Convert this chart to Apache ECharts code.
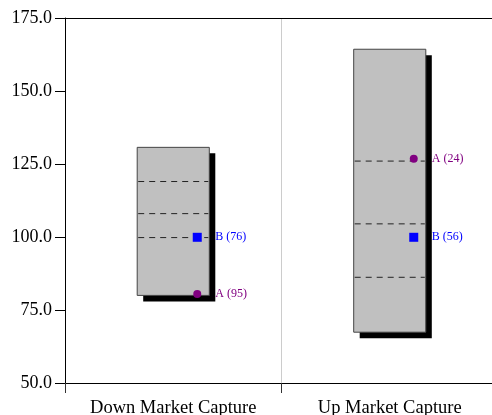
<!DOCTYPE html>
<html>
<head>
<meta charset="utf-8">
<script src="https://cdn.jsdelivr.net/npm/echarts@6/dist/echarts.min.js"></script>
<style>html,body{margin:0;padding:0;background:#fff;}#c{width:492px;height:415px;}</style>
</head>
<body>
<div id="c"></div>
<script>
var categories = ['Down Market Capture', 'Up Market Capture'];
var boxLow = [80.0, 67.4];
var boxHigh = [130.7, 164.3];
var dashLines = [[119.0, 108.0, 99.8], [126.0, 104.5, 86.2]];
var seriesA = [80.5, 126.8];
var rankA = [95, 24];
var seriesB = [99.9, 99.9];
var rankB = [76, 56];
var yTicks = [50, 75, 100, 125, 150, 175];

var FONT = '"Liberation Serif", "Times New Roman", serif';

var boxData = categories.map(function (c, i) {
  return [i, boxLow[i], boxHigh[i]].concat(dashLines[i]);
});
var aData = categories.map(function (c, i) { return [i, seriesA[i], rankA[i]]; });
var bData = categories.map(function (c, i) { return [i, seriesB[i], rankB[i]]; });

function renderBox(params, api) {
  var i = api.value(0);
  var lo = api.coord([i, api.value(1)]);
  var hi = api.coord([i, api.value(2)]);
  var bw = api.size([1, 0])[0] * 0.333;
  var x0 = lo[0] - bw / 2;
  var children = [
    { type: 'rect', shape: { x: x0 + 6, y: hi[1] + 6, width: bw, height: lo[1] - hi[1] }, style: { fill: '#000' } },
    { type: 'rect', shape: { x: x0, y: hi[1], width: bw, height: lo[1] - hi[1] }, style: { fill: '#c0c0c0', stroke: '#444', lineWidth: 1 } }
  ];
  for (var k = 3; k < 6; k++) {
    var p = api.coord([i, api.value(k)]);
    children.push({ type: 'line', shape: { x1: x0 + 1, y1: p[1], x2: x0 + bw - 1, y2: p[1] },
      style: { stroke: '#222', lineWidth: 1, lineDash: [6, 5] } });
  }
  return { type: 'group', children: children };
}

function makeMarker(kind, color, name) {
  return function (params, api) {
    var i = api.value(0);
    var p = api.coord([i, api.value(1)]);
    var cx = p[0] + 24;
    var sym = kind === 'circle'
      ? { type: 'circle', shape: { cx: cx, cy: p[1], r: 4 }, style: { fill: color } }
      : { type: 'rect', shape: { x: cx - 4.5, y: p[1] - 4.5, width: 9, height: 9 }, style: { fill: color } };
    return { type: 'group', children: [
      sym,
      { type: 'text', style: { x: p[0] + 42, y: p[1], text: name + ' (' + api.value(2) + ')',
        fill: color, font: '12px ' + FONT, verticalAlign: 'middle', align: 'left' } }
    ] };
  };
}

var chart = echarts.init(document.getElementById('c'), null, { renderer: 'canvas' });
chart.setOption({
  animation: false,
  backgroundColor: '#fff',
  grid: { left: 65, width: 433, top: 18, height: 365, containLabel: false, outerBoundsMode: 'none' },
  xAxis: [{
    type: 'category', data: categories, position: 'bottom', boundaryGap: true,
    axisLine: { lineStyle: { color: '#000', width: 1 } },
    axisTick: { show: true, length: 10, interval: 0, lineStyle: { color: '#333' } },
    axisLabel: { color: '#000', fontFamily: FONT, fontSize: 18.5, margin: 16, interval: 0, hideOverlap: false },
    splitLine: { show: true, interval: 0, lineStyle: { color: '#cccccc', width: 1 } }
  }, {
    type: 'category', data: categories, position: 'top',
    axisLine: { lineStyle: { color: '#000', width: 1 } },
    axisTick: { show: false }, axisLabel: { show: false }, splitLine: { show: false }
  }],
  yAxis: {
    type: 'value', min: 50, max: 175, interval: 25,
    axisLine: { show: true, lineStyle: { color: '#000', width: 1 } },
    axisTick: { show: true, length: 10, lineStyle: { color: '#000' } },
    axisLabel: { color: '#000', fontFamily: FONT, fontSize: 18, margin: 13,
      formatter: function (v) { return yTicks.indexOf(v) >= 0 ? v.toFixed(1) : ''; } },
    splitLine: { show: false }
  },
  series: [
    { type: 'custom', renderItem: renderBox, data: boxData, encode: { x: 0, y: [1, 2] }, z: 2 },
    { type: 'custom', renderItem: makeMarker('circle', '#800080', 'A'), data: aData, encode: { x: 0, y: 1 }, z: 3 },
    { type: 'custom', renderItem: makeMarker('rect', '#0000ff', 'B'), data: bData, encode: { x: 0, y: 1 }, z: 3 }
  ]
});
</script>
</body>
</html>
